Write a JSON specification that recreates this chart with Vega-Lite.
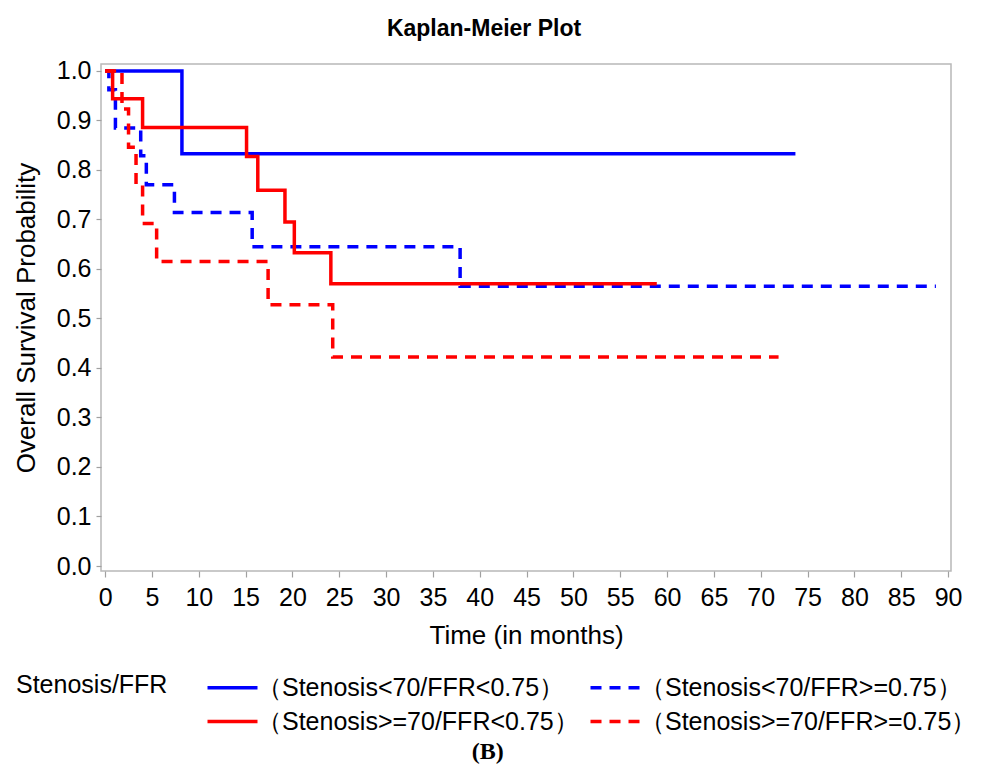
{
  "$schema": "https://vega.github.io/schema/vega-lite/v6.json",
  "padding": {"left": 12, "top": 17, "right": 5, "bottom": 5},
  "background": "white",
  "title": {"text": "(B)", "orient": "bottom", "font": "Liberation Serif", "fontWeight": "bold", "fontSize": 24, "color": "black", "offset": 5, "anchor": "middle", "dx": -7},
  "config": {
    "font": "Liberation Sans",
    "view": {"stroke": "#B8B8B8", "strokeWidth": 1.5},
    "axis": {"grid": false, "domain": false, "tickColor": "#A0A0A0", "tickWidth": 1.2, "labelColor": "black", "titleColor": "black", "titleFontWeight": "normal", "labelFont": "Liberation Sans", "titleFont": "Liberation Sans"},
    "legend": {"labelFont": "Liberation Sans", "titleFont": "Liberation Sans"}
  },
  "datasets": {
    "km": [
      {"g": "（Stenosis<70/FFR<0.75）", "t": 0, "s": 1},
      {"g": "（Stenosis<70/FFR<0.75）", "t": 8.2, "s": 0.833},
      {"g": "（Stenosis<70/FFR<0.75）", "t": 73.7, "s": 0.833},
      {"g": "（Stenosis<70/FFR>=0.75）", "t": 0, "s": 1},
      {"g": "（Stenosis<70/FFR>=0.75）", "t": 0.4, "s": 0.962},
      {"g": "（Stenosis<70/FFR>=0.75）", "t": 1.1, "s": 0.885},
      {"g": "（Stenosis<70/FFR>=0.75）", "t": 3.8, "s": 0.829},
      {"g": "（Stenosis<70/FFR>=0.75）", "t": 4.4, "s": 0.770},
      {"g": "（Stenosis<70/FFR>=0.75）", "t": 7.4, "s": 0.714},
      {"g": "（Stenosis<70/FFR>=0.75）", "t": 15.7, "s": 0.645},
      {"g": "（Stenosis<70/FFR>=0.75）", "t": 37.9, "s": 0.565},
      {"g": "（Stenosis<70/FFR>=0.75）", "t": 88.7, "s": 0.565},
      {"g": "（Stenosis>=70/FFR<0.75）", "t": 0, "s": 1},
      {"g": "（Stenosis>=70/FFR<0.75）", "t": 0.8, "s": 0.944},
      {"g": "（Stenosis>=70/FFR<0.75）", "t": 4.0, "s": 0.886},
      {"g": "（Stenosis>=70/FFR<0.75）", "t": 15.1, "s": 0.827},
      {"g": "（Stenosis>=70/FFR<0.75）", "t": 16.3, "s": 0.759},
      {"g": "（Stenosis>=70/FFR<0.75）", "t": 19.2, "s": 0.695},
      {"g": "（Stenosis>=70/FFR<0.75）", "t": 20.2, "s": 0.633},
      {"g": "（Stenosis>=70/FFR<0.75）", "t": 24.1, "s": 0.570},
      {"g": "（Stenosis>=70/FFR<0.75）", "t": 58.9, "s": 0.570},
      {"g": "（Stenosis>=70/FFR>=0.75）", "t": 0, "s": 1},
      {"g": "（Stenosis>=70/FFR>=0.75）", "t": 1.8, "s": 0.923},
      {"g": "（Stenosis>=70/FFR>=0.75）", "t": 2.5, "s": 0.846},
      {"g": "（Stenosis>=70/FFR>=0.75）", "t": 3.3, "s": 0.769},
      {"g": "（Stenosis>=70/FFR>=0.75）", "t": 4.0, "s": 0.692},
      {"g": "（Stenosis>=70/FFR>=0.75）", "t": 5.5, "s": 0.615},
      {"g": "（Stenosis>=70/FFR>=0.75）", "t": 17.4, "s": 0.528},
      {"g": "（Stenosis>=70/FFR>=0.75）", "t": 24.3, "s": 0.422},
      {"g": "（Stenosis>=70/FFR>=0.75）", "t": 71.9, "s": 0.422}
    ]
  },
  "vconcat": [
    {
      "title": {"text": "Kaplan-Meier Plot", "fontSize": 23, "fontWeight": "bold", "font": "Liberation Sans", "color": "black", "offset": 18, "dx": -42, "anchor": "middle"},
      "width": 850,
      "height": 507,
      "data": {"name": "km"},
      "mark": {"type": "line", "interpolate": "step-after", "strokeWidth": 3.5},
      "encoding": {
        "x": {"field": "t", "type": "quantitative",
          "scale": {"domain": [-0.44, 90.31], "nice": false, "zero": false},
          "axis": {"title": "Time (in months)", "values": [0,5,10,15,20,25,30,35,40,45,50,55,60,65,70,75,80,85,90], "labelFontSize": 25, "titleFontSize": 26, "tickSize": 6, "labelPadding": 8, "titlePadding": 12, "labelFlush": false, "labelOverlap": false}},
        "y": {"field": "s", "type": "quantitative",
          "scale": {"domain": [-0.0101, 1.0141], "nice": false, "zero": false},
          "axis": {"title": "Overall Survival Probability", "values": [0,0.1,0.2,0.3,0.4,0.5,0.6,0.7,0.8,0.9,1.0], "format": ".1f", "labelFontSize": 25, "titleFontSize": 26, "tickSize": 5, "labelPadding": 5, "titlePadding": 17}},
        "color": {"field": "g", "type": "nominal",
          "scale": {"domain": ["（Stenosis<70/FFR<0.75）", "（Stenosis<70/FFR>=0.75）", "（Stenosis>=70/FFR<0.75）", "（Stenosis>=70/FFR>=0.75）"], "range": ["#0000FF", "#0000FF", "#FF0000", "#FF0000"]},
          "legend": {"title": "Stenosis/FFR", "orient": "none", "legendX": -85, "legendY": 609, "direction": "horizontal", "columns": 2, "titleOrient": "left", "titleAnchor": "start", "titleBaseline": "top", "titleFontSize": 25, "titleFontWeight": "normal", "titleColor": "black", "labelFontSize": 25, "labelColor": "black", "labelLimit": 400, "symbolType": "M-2,0H2", "symbolSize": 625, "symbolStrokeWidth": 3.5, "columnPadding": 4, "rowPadding": 6, "titlePadding": 50, "labelOffset": 10}},
        "strokeDash": {"field": "g", "type": "nominal",
          "scale": {"domain": ["（Stenosis<70/FFR<0.75）", "（Stenosis<70/FFR>=0.75）", "（Stenosis>=70/FFR<0.75）", "（Stenosis>=70/FFR>=0.75）"], "range": [[1, 0], [11, 8], [1, 0], [11, 8]]},
          "legend": {"title": "Stenosis/FFR", "orient": "none", "legendX": -85, "legendY": 609, "direction": "horizontal", "columns": 2, "titleOrient": "left", "titleAnchor": "start", "titleBaseline": "top", "titleFontSize": 25, "titleFontWeight": "normal", "titleColor": "black", "labelFontSize": 25, "labelColor": "black", "labelLimit": 400, "symbolType": "M-2,0H2", "symbolSize": 625, "symbolStrokeWidth": 3.5, "columnPadding": 4, "rowPadding": 6, "titlePadding": 50, "labelOffset": 10}},
        "order": {"field": "t", "type": "quantitative"}
      }
    }
  ]
}
